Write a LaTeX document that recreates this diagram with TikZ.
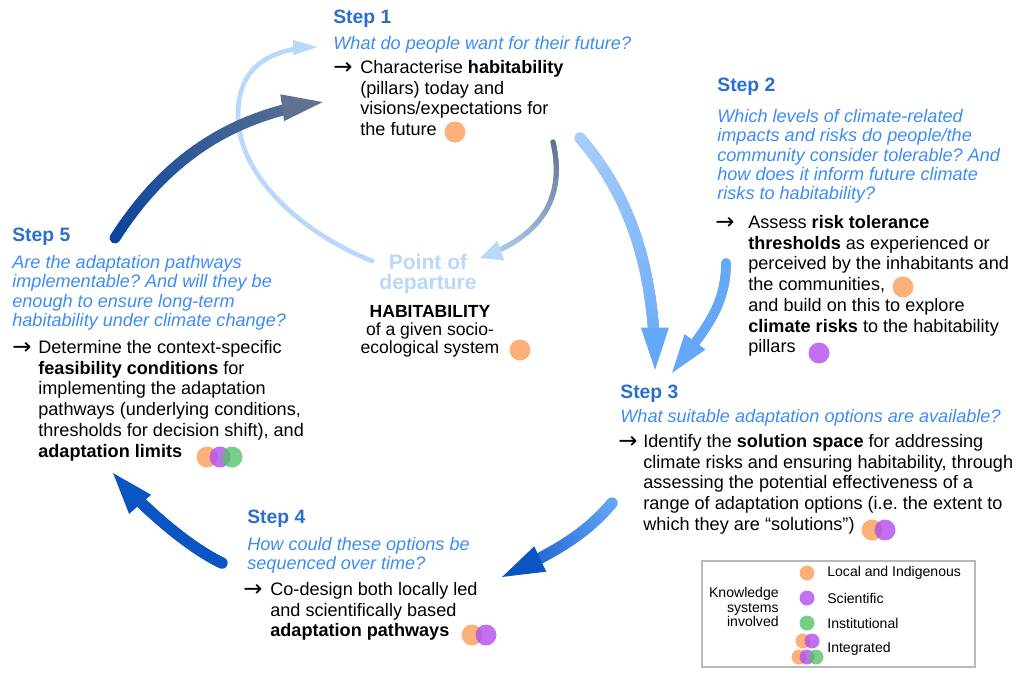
\documentclass[tikz,border=0pt]{standalone}
\usepackage{fontspec}
\setmainfont{Liberation Sans}
\newfontfamily\arrowfont{DejaVu Sans}
\frenchspacing
\usetikzlibrary{decorations.markings}

\definecolor{headblue}{HTML}{2A6FCC}
\definecolor{askblue}{HTML}{3D8CF3}
\definecolor{paleblue}{HTML}{B9D8FC}
\definecolor{lightsky}{HTML}{A8CDFB}
\definecolor{skyblue}{HTML}{66A8F8}
\definecolor{deepblue}{HTML}{0B55C3}
\definecolor{navyblue}{HTML}{0A449E}
\definecolor{slategrey}{HTML}{5F7390}
\definecolor{localdot}{HTML}{FB9E5A}
\definecolor{scidot}{HTML}{B04CEC}
\definecolor{instdot}{HTML}{56C069}

\tikzset{
  steptitle/.style={anchor=north west, inner sep=0pt, text=headblue,
    font=\fontsize{11}{13}\selectfont\bfseries},
  stepask/.style={anchor=north west, inner sep=0pt, text=askblue, align=left,
    font=\fontsize{10.3}{11}\selectfont\itshape},
  steptext/.style={anchor=north west, inner sep=0pt, align=left,
    font=\fontsize{10.3}{11.8}\selectfont},
  steparrow/.style={anchor=west, inner sep=0pt, font=\fontsize{13}{13}\arrowfont},
  knowdot/.style={circle, inner sep=0pt, minimum size=0.42cm, fill opacity=0.8},
  keydot/.style={circle, inner sep=0pt, minimum size=0.3cm, fill opacity=0.8},
  keytext/.style={anchor=west, inner sep=0pt, font=\fontsize{8}{8}\selectfont},
  % width, head length, head half width (pt), start colour, end colour
  flowarrow/.style n args={5}{
    postaction={decorate, decoration={markings,
      mark=between positions 0 and 1 step 0.8pt with {%
        \pgfmathsetmacro\flowd{\pgfkeysvalueof{/pgf/decoration/mark info/distance from start}}%
        \pgfmathtruncatemacro\flowpct{\flowd/\pgfdecoratedpathlength*100}%
        \pgfmathtruncatemacro\flowon{\flowd<\pgfdecoratedpathlength-#2}%
        \ifnum\flowon=1 \fill[#5!\flowpct!#4] (0,0) circle[radius=#1/2];\fi
      }}},
    postaction={decorate, decoration={markings,
      mark=at position 0.999 with {\fill[#5] (0,0) -- (-#2pt,#3pt) -- (-#2pt,-#3pt) -- cycle;}}}
  }
}

\begin{document}
\begin{tikzpicture}[x=0.02cm,y=-0.02cm]
\useasboundingbox (0,0) rectangle (1024,674);

% Step 1
\node[steptitle] (s1title) at (333,10) {Step 1};
\node[stepask] (s1ask) at (333,36) {What do people want for their future?};
\node[steparrow] (s1arrow) at (333,68) {→};
\node[steptext] (s1text) at (360,60) {Characterise \textbf{habitability}\\(pillars) today and\\visions/expectations for\\the future};
\node[knowdot, fill=localdot] (s1local) at (455,132) {};

% Step 2
\node[steptitle] (s2title) at (717,78) {Step 2};
\node[stepask] (s2ask) at (717,109) {Which levels of climate-related\\impacts and risks do people/the\\community consider tolerable? And\\how does it inform future climate\\risks to habitability?};
\node[steparrow] (s2arrow) at (715,223) {→};
\node[steptext] (s2text) at (748,215) {Assess \textbf{risk tolerance}\\\textbf{thresholds} as experienced or\\perceived by the inhabitants and\\the communities,\\and build on this to explore\\\textbf{climate risks} to the habitability\\pillars};
\node[knowdot, fill=localdot] (s2local) at (903,287) {};
\node[knowdot, fill=scidot] (s2sci) at (819,353) {};

% Step 3
\node[steptitle] (s3title) at (620,385) {Step 3};
\node[stepask] (s3ask) at (620,409) {What suitable adaptation options are available?};
\node[steparrow] (s3arrow) at (618,442) {→};
\node[steptext] (s3text) at (643,434) {Identify the \textbf{solution space} for addressing\\climate risks and ensuring habitability, through\\assessing the potential effectiveness of a\\range of adaptation options (i.e. the extent to\\which they are ``solutions'')};
\node[knowdot, fill=localdot] (s3local) at (872,530) {};
\node[knowdot, fill=scidot] (s3sci) at (885,530) {};

% Step 4
\node[steptitle] (s4title) at (247,510) {Step 4};
\node[stepask] (s4ask) at (247,537) {How could these options be\\sequenced over time?};
\node[steparrow] (s4arrow) at (243,590) {→};
\node[steptext] (s4text) at (270,582) {Co-design both locally led\\and scientifically based\\\textbf{adaptation pathways}};
\node[knowdot, fill=localdot] (s4local) at (472,635) {};
\node[knowdot, fill=scidot] (s4sci) at (486,635) {};

% Step 5
\node[steptitle] (s5title) at (12,228) {Step 5};
\node[stepask] (s5ask) at (12,255) {Are the adaptation pathways\\implementable? And will they be\\enough to ensure long-term\\habitability under climate change?};
\node[steparrow] (s5arrow) at (12,348) {→};
\node[steptext] (s5text) at (38,340) {Determine the context-specific\\\textbf{feasibility conditions} for\\implementing the adaptation\\pathways (underlying conditions,\\thresholds for decision shift), and\\\textbf{adaptation limits}};
\node[knowdot, fill=localdot] (s5local) at (207,457) {};
\node[knowdot, fill=scidot] (s5sci) at (220,457) {};
\node[knowdot, fill=instdot] (s5inst) at (232,457) {};

% Point of departure
\node[anchor=north, inner sep=0pt, align=center, text=paleblue,
  font=\fontsize{12}{11.4}\selectfont\bfseries] (start) at (428,254) {Point of\\departure};
\node[anchor=north, inner sep=0pt, align=center,
  font=\fontsize{10}{10.3}\selectfont] (habit) at (430,305) {\textbf{HABITABILITY}\\of a given socio-\\ecological system};
\node[knowdot, fill=localdot] (habitlocal) at (520,350) {};

% The arrows:
\coordinate (loopA) at (372,261);
\coordinate (loopB) at (238,115);
\coordinate (loopC) at (318,47);
\path[flowarrow={2.8pt}{14}{4.3}{paleblue}{paleblue}]
  (loopA) .. controls (300,232) and (238,175) .. (loopB)
  .. controls (238,68) and (268,48) .. (loopC);

\coordinate (s1down) at (553,142);
\coordinate (startin) at (480,258);
\path[flowarrow={3.1pt}{12.5}{6}{slategrey}{paleblue}]
  (s1down) .. controls (565,195) and (545,235) .. (startin);

\coordinate (s5up) at (115,238);
\coordinate (s1in) at (323,102);
\path[flowarrow={6.3pt}{23.3}{7.7}{navyblue}{slategrey}]
  (s5up) .. controls (165,160) and (230,115) .. (s1in);

\coordinate (s1out) at (580,138);
\coordinate (s3inA) at (655,370);
\path[flowarrow={6.5pt}{24}{8}{lightsky}{skyblue}]
  (s1out) .. controls (625,190) and (655,260) .. (s3inA);

\coordinate (s2out) at (726,263);
\coordinate (s3inB) at (672,373);
\path[flowarrow={5.7pt}{22}{7.4}{skyblue}{skyblue}]
  (s2out) .. controls (726,310) and (700,335) .. (s3inB);

\coordinate (s3out) at (612,503);
\coordinate (s4in) at (502,577);
\path[flowarrow={6.5pt}{24}{8}{skyblue}{deepblue}]
  (s3out) .. controls (585,535) and (555,552) .. (s4in);

\coordinate (s4out) at (222,563);
\coordinate (s5in) at (113,473);
\path[flowarrow={6.5pt}{23.5}{8.3}{deepblue}{deepblue}]
  (s4out) .. controls (190,548) and (145,510) .. (s5in);

% Legend
\draw[gray!55, line width=0.8pt] (702,561) rectangle (975,667);
\node[anchor=east, inner sep=0pt, align=right, font=\fontsize{8}{8}\selectfont] (keyhead) at (779,607) {Knowledge\\systems\\involved};
\node[keydot, fill=localdot] (keylocal) at (807,573) {};
\node[keytext] (keylocaltext) at (827,573) {Local and Indigenous};
\node[keydot, fill=scidot] (keysci) at (807,598) {};
\node[keytext] (keyscitext) at (827,598) {Scientific};
\node[keydot, fill=instdot] (keyinst) at (807,623) {};
\node[keytext] (keyinsttext) at (827,623) {Institutional};
\node[keydot, fill=localdot] (keymixA) at (803,641) {};
\node[keydot, fill=scidot] (keymixB) at (812,641) {};
\node[keydot, fill=localdot] (keymixC) at (799,657) {};
\node[keydot, fill=scidot] (keymixD) at (807,657) {};
\node[keydot, fill=instdot] (keymixE) at (816,657) {};
\node[keytext] (keymixtext) at (827,649) {Integrated};
\end{tikzpicture}
\end{document}
